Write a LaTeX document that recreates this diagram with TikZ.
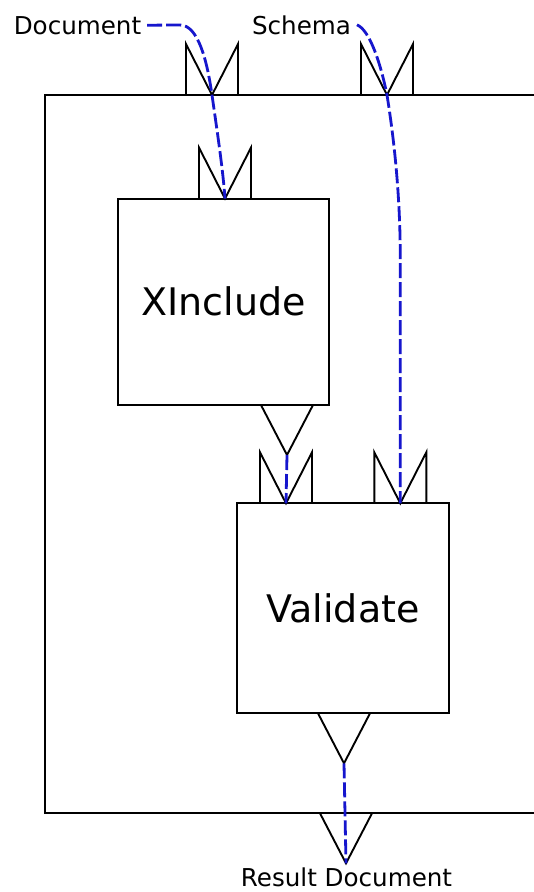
\documentclass[tikz,border=0pt]{standalone}
\usepackage{fontspec}
\setmainfont{DejaVu Sans}
\definecolor{flowblue}{RGB}{22,22,205}
\tikzset{
  frame/.style={draw=black, line width=1.9pt},
  procbox/.style={frame, minimum width=211pt, minimum height=206pt, inner sep=0pt, outer sep=0pt, anchor=north west, font=\fontsize{38}{44}\selectfont},
  lbl/.style={inner sep=6pt, outer sep=0pt, font=\fontsize{24.6}{29}\selectfont},
  flow/.style={draw=flowblue, line width=2.8pt, dash pattern=on 15pt off 4pt},
  inport/.pic={\draw[frame] (-26,0) -- (-26,-51) -- (0,0) -- (26,-51) -- (26,0); \coordinate (-v) at (0,0);},
  outport/.pic={\draw[frame] (-26,0) -- (0,50) -- (26,0); \coordinate (-v) at (0,50);},
}
\begin{document}
\begin{tikzpicture}[x=1pt,y=-1pt]
\useasboundingbox[fill=white] (0,0) rectangle (534,892);
% outer container (right side beyond the picture)
\draw[frame] (534,95) -- (45,95) -- (45,813.3) -- (534,813.3);
% labels
\node[lbl, anchor=base] (doc) at (77.5,34) {Document};
\node[lbl, anchor=base] (sch) at (301.5,34) {Schema};
\node[lbl, inner ysep=0.5pt, anchor=base] (res) at (346.5,886) {Result Document};
% process boxes
\node[procbox, minimum width=211pt, minimum height=206.4pt] (xinc) at (118,198.6) {XInclude};
\node[procbox, minimum width=211.4pt, minimum height=210pt] (valid) at (237.3,503.3) {Validate};
% ports
\pic (dp) at (212,95) {inport};
\pic (sp) at (387,95) {inport};
\pic (xin) at (225,198.6) {inport};
\pic (xout) at (287,405) {outport};
\pic (vin1) at (286,503.3) {inport};
\pic (vin2) at (400.3,503.3) {inport};
\pic (vout) at (344,713.3) {outport};
\pic (oout) at (346,813.3) {outport};
% flows
\draw[flow] (doc.east) -- (180,25) .. controls (198,25) and (207,60) .. (dp-v)
  .. controls (217,130) and (223,170) .. (xin-v);
\draw[flow] (sch.east) .. controls (370,30) and (381,65) .. (sp-v)
  .. controls (395,145) and (400.3,200) .. (400.3,260) -- (vin2-v);
\draw[flow] (xout-v) -- (vin1-v);
\draw[flow] (vout-v) -- (oout-v);
\end{tikzpicture}
\end{document}
